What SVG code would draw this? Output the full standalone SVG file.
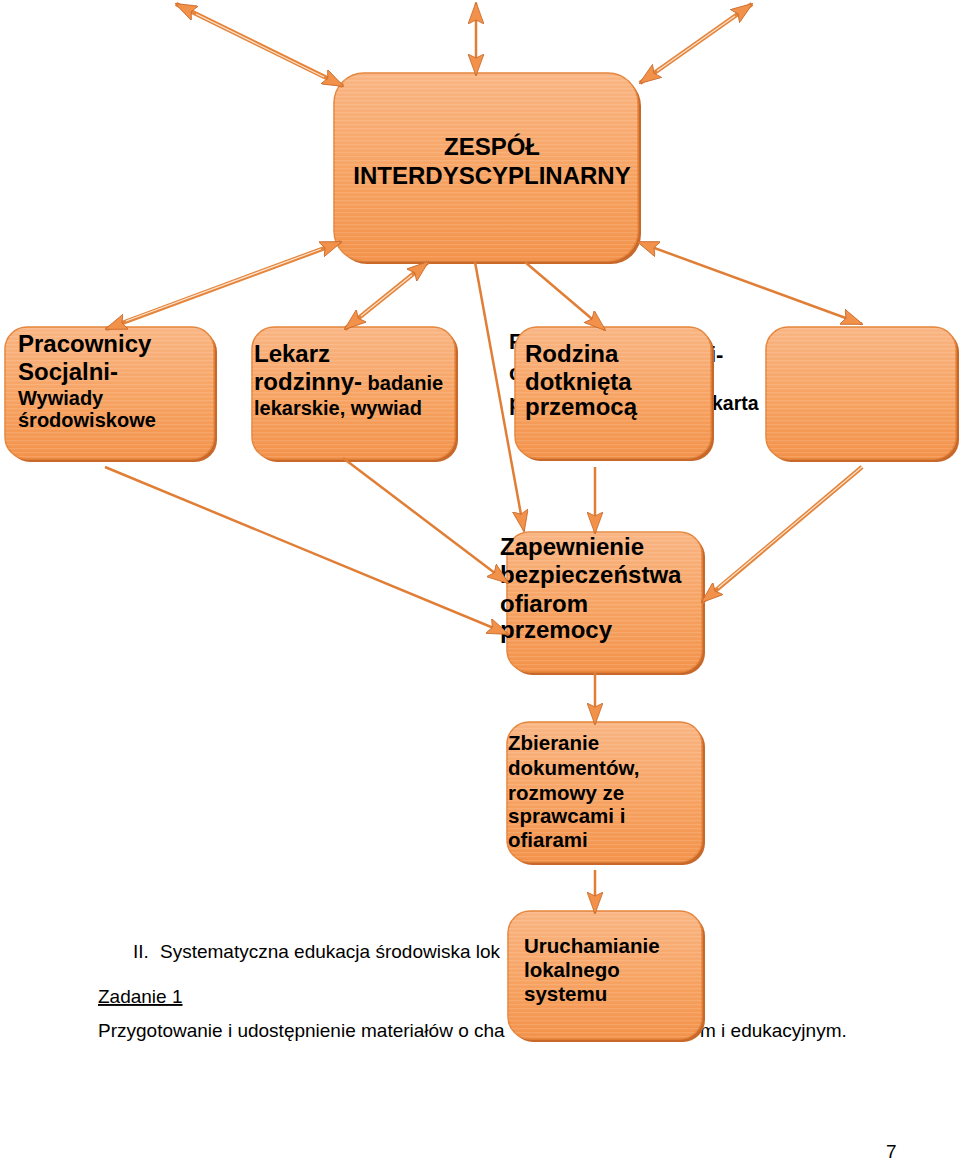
<svg xmlns="http://www.w3.org/2000/svg" width="960" height="1162" viewBox="0 0 960 1162">
<style>
.t{font-family:"Liberation Sans",Arial,sans-serif;font-weight:bold;fill:#000}
.b{font-family:"Liberation Sans",Arial,sans-serif;font-size:19px;fill:#000}
.box{fill:url(#g);stroke:#E5853C;stroke-width:1.5}
.sh{fill:#C8692B}
.str{fill:url(#stripes)}
.s1{fill:none;stroke:#E17E36;stroke-width:2.5}
.d-o{fill:none;stroke:#E5843B;stroke-width:4.5}
.d-i{fill:none;stroke:#FCE3CC;stroke-width:1.2}
.m{fill:none;stroke:none}
</style>
<defs>
<linearGradient id="g" x1="0" y1="0" x2="0" y2="1">
<stop offset="0" stop-color="#F9B583"/>
<stop offset="0.5" stop-color="#F7A464"/>
<stop offset="1" stop-color="#F3924A"/>
</linearGradient>
<pattern id="stripes" width="8" height="4" patternUnits="userSpaceOnUse">
<rect x="0" y="0" width="8" height="1.3" fill="#FFFFFF" opacity="0.13"/>
</pattern>
<marker id="ah" viewBox="0 0 22 16" refX="21" refY="8" markerWidth="22" markerHeight="16" markerUnits="userSpaceOnUse" orient="auto-start-reverse">
<path d="M0,0 L22,8 L0,16 L4,8 z" fill="#F29149" stroke="#C9682A" stroke-width="0.8"/>
</marker>
</defs>

<g id="body-text">
<text class="b" x="133" y="958">II.</text>
<text class="b" x="160" y="958">Systematyczna edukacja środowiska lok</text>
<text class="b" x="98" y="1003" text-decoration="underline">Zadanie 1</text>
<text class="b" x="98" y="1037">Przygotowanie i udostępnienie materiałów o cha</text>
<text class="b" x="700" y="1037">m i edukacyjnym.</text>
<text class="b" x="886" y="1158" font-size="18">7</text>
</g>

<g id="node-zespol">
<rect class="sh" x="337" y="76" width="304" height="188" rx="30"/>
<rect class="box" x="334" y="73" width="304" height="188" rx="30"/>
<rect class="str" x="334" y="73" width="304" height="188" rx="30"/>
<text class="t" font-size="24" x="492" y="155" text-anchor="middle">ZESPÓŁ</text>
<text class="t" font-size="24" x="492" y="184" text-anchor="middle">INTERDYSCYPLINARNY</text>
</g>

<g id="node-pracownicy">
<rect class="sh" x="8" y="330" width="209" height="132" rx="22"/>
<rect class="box" x="5" y="327" width="209" height="132" rx="22"/>
<rect class="str" x="5" y="327" width="209" height="132" rx="22"/>
<text class="t" font-size="24" x="18" y="352">Pracownicy</text>
<text class="t" font-size="24" x="18" y="380">Socjalni-</text>
<text class="t" font-size="20" x="18" y="405">Wywiady</text>
<text class="t" font-size="20" x="18" y="427">środowiskowe</text>
</g>

<g id="node-lekarz">
<rect class="sh" x="255" y="330" width="203" height="132" rx="22"/>
<rect class="box" x="252" y="327" width="203" height="132" rx="22"/>
<rect class="str" x="252" y="327" width="203" height="132" rx="22"/>
<text class="t" font-size="24" x="254" y="362">Lekarz</text>
<text class="t" font-size="24" x="254" y="390">rodzinny-<tspan font-size="20"> badanie</tspan></text>
<text class="t" font-size="20" x="254" y="415">lekarskie, wywiad</text>
</g>

<g id="node-hidden">
<text class="t" font-size="22" x="509" y="349">F</text>
<text class="t" font-size="22" x="710" y="362">i-</text>
<text class="t" font-size="22" x="509" y="380">c</text>
<text class="t" font-size="22" x="509" y="410">p</text>
<text class="t" font-size="19.5" x="712" y="410">karta</text>
</g>

<g id="node-rodzina">
<rect class="sh" x="518" y="330" width="196" height="131" rx="22"/>
<rect class="box" x="515" y="327" width="196" height="131" rx="22"/>
<rect class="str" x="515" y="327" width="196" height="131" rx="22"/>
<text class="t" font-size="24" x="525" y="362">Rodzina</text>
<text class="t" font-size="24" x="525" y="390">dotknięta</text>
<text class="t" font-size="24" x="525" y="415">przemocą</text>
</g>

<g id="node-empty">
<rect class="sh" x="769" y="330" width="190" height="132" rx="22"/>
<rect class="box" x="766" y="327" width="190" height="132" rx="22"/>
<rect class="str" x="766" y="327" width="190" height="132" rx="22"/>
</g>

<g id="node-zapewnienie">
<rect class="sh" x="510" y="535" width="195" height="140" rx="22"/>
<rect class="box" x="507" y="532" width="195" height="140" rx="22"/>
<rect class="str" x="507" y="532" width="195" height="140" rx="22"/>
<text class="t" font-size="24" x="500" y="555">Zapewnienie</text>
<text class="t" font-size="24" x="500" y="583">bezpieczeństwa</text>
<text class="t" font-size="24" x="500" y="612">ofiarom</text>
<text class="t" font-size="24" x="500" y="638">przemocy</text>
</g>

<g id="node-zbieranie">
<rect class="sh" x="510" y="725" width="195" height="140" rx="22"/>
<rect class="box" x="507" y="722" width="195" height="140" rx="22"/>
<rect class="str" x="507" y="722" width="195" height="140" rx="22"/>
<text class="t" font-size="20.5" x="508" y="750">Zbieranie</text>
<text class="t" font-size="20.5" x="508" y="775">dokumentów,</text>
<text class="t" font-size="20.5" x="508" y="800">rozmowy ze</text>
<text class="t" font-size="20.5" x="508" y="823">sprawcami i</text>
<text class="t" font-size="20.5" x="508" y="847">ofiarami</text>
</g>

<g id="node-uruchamianie">
<rect class="sh" x="511" y="914" width="194" height="128" rx="22"/>
<rect class="box" x="508" y="911" width="194" height="128" rx="22"/>
<rect class="str" x="508" y="911" width="194" height="128" rx="22"/>
<text class="t" font-size="20.5" x="524" y="953">Uruchamianie</text>
<text class="t" font-size="20.5" x="524" y="977">lokalnego</text>
<text class="t" font-size="20.5" x="524" y="1001">systemu</text>
</g>

<g id="connectors">
<path class="d-o" d="M343,86 L176,4"/><path class="d-i" d="M324,77 L196,14"/><path class="m" d="M343,86 L176,4" marker-start="url(#ah)" marker-end="url(#ah)"/>
<path class="s1" d="M476,75 L476,3" stroke-width="3.5" marker-start="url(#ah)" marker-end="url(#ah)"/>
<path class="d-o" d="M640,83 L752,4"/><path class="d-i" d="M657,71 L735,16"/><path class="m" d="M640,83 L752,4" marker-start="url(#ah)" marker-end="url(#ah)"/>
<path class="d-o" d="M341,242 L106,329"/><path class="d-i" d="M321,249 L126,321"/><path class="m" d="M341,242 L106,329" marker-start="url(#ah)" marker-end="url(#ah)"/>
<path class="d-o" d="M428,262 L345,329"/><path class="d-i" d="M412,275 L361,316"/><path class="m" d="M428,262 L345,329" marker-start="url(#ah)" marker-end="url(#ah)"/>
<path class="s1" d="M475,262 L524,531" marker-end="url(#ah)"/>
<path class="s1" d="M525,262 L605,330" marker-end="url(#ah)"/>
<path class="s1" d="M638,242 L862,324" stroke-width="3" marker-start="url(#ah)" marker-end="url(#ah)"/>
<path class="s1" d="M105,467 L508,634" marker-end="url(#ah)"/>
<path class="s1" d="M343,458 L508,583" marker-end="url(#ah)"/>
<path class="s1" d="M595,467 L595,533" marker-end="url(#ah)"/>
<path class="d-o" d="M862,467 L702,602"/><path class="d-i" d="M862,467 L718,588"/><path class="m" d="M862,467 L702,602" marker-end="url(#ah)"/>
<path class="s1" d="M595,672 L595,724" marker-end="url(#ah)"/>
<path class="s1" d="M595,870 L595,913" marker-end="url(#ah)"/>
</g>
</svg>
